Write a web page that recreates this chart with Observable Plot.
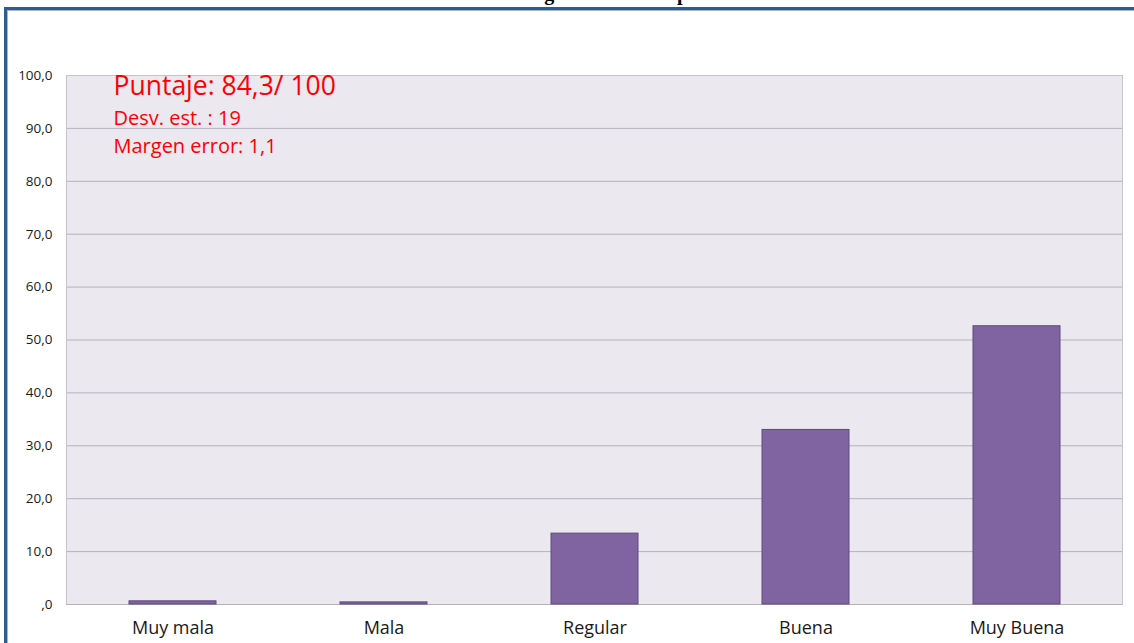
<!DOCTYPE html>
<html>
<head>
<meta charset="utf-8">
<script src="https://cdn.jsdelivr.net/npm/d3@7"></script>
<script src="https://cdn.jsdelivr.net/npm/@observablehq/plot@0.6"></script>
<style>
  html, body { margin: 0; padding: 0; background: #fff; overflow: hidden; }
  #page { position: relative; width: 1134px; height: 643px; overflow: hidden; }
  #title { position: absolute; left: 437px; top: -17px; line-height: 20px; font-family: "Liberation Serif", serif; font-weight: bold; font-size: 20px; white-space: nowrap; color: #000; }
  #border { position: absolute; left: 4px; top: 7px; width: 1300px; height: 800px; border-left: 3px solid #2f5b93; border-top: 3px solid #2f5b93; box-shadow: inset 1px 1px 0 #a9b4c4; }
  #chart { position: absolute; left: 0; top: 0; }
</style>
</head>
<body>
<div id="page">
  <div id="title">Calificación general de la experiencia</div>
  <div id="border"></div>
  <div id="chart"></div>
</div>
<script>
const categories = ["Muy mala", "Mala", "Regular", "Buena", "Muy Buena"];
const values = [0.6, 0.4, 13.4, 33.0, 52.6];
const yTicks = [0, 10, 20, 30, 40, 50, 60, 70, 80, 90, 100];
const yTickLabels = [",0", "10,0", "20,0", "30,0", "40,0", "50,0", "60,0", "70,0", "80,0", "90,0", "100,0"];
const notes = ["Puntaje: 84,3/ 100", "Desv. est. : 19", "Margen error: 1,1"];

const data = categories.map((c, i) => ({cat: c, value: values[i]}));

const chart = Plot.plot({
  width: 1134,
  height: 643,
  marginLeft: 66,
  marginRight: 12,
  marginTop: 75,
  marginBottom: 39,
  style: {background: "transparent", fontFamily: "'Open Sans', sans-serif", color: "#1a1a1a"},
  x: {domain: categories, paddingInner: 0.59, paddingOuter: 0.295, label: null},
  y: {domain: [0, 100], label: null},
  marks: [
    Plot.frame({fill: "#ebe8ef", stroke: "none"}),
    Plot.gridY(yTicks, {stroke: "#b4b2ba", strokeOpacity: 1, strokeWidth: 1}),
    Plot.frame({stroke: "#c6c4ca", fill: "none"}),
    Plot.ruleY([0], {stroke: "#b4b2ba"}),
    Plot.barY(data, {x: "cat", y: "value", fill: "#8064a2", stroke: "#5e4a7c", strokeWidth: 1}),
    Plot.axisX({tickSize: 0, tickPadding: 17, fontSize: 18, label: null}),
    Plot.axisY({ticks: yTicks, tickFormat: d => yTickLabels[yTicks.indexOf(d)], tickSize: 0, tickPadding: 14, fontSize: 13.5, label: null}),
    Plot.text([notes[0]], {frameAnchor: "top-left", text: d => d, dx: 47, dy: 1, lineAnchor: "top", textAnchor: "start", fontSize: 26.5, fill: "#ff0000"}),
    Plot.text([notes[1]], {frameAnchor: "top-left", text: d => d, dx: 47, dy: 35, lineAnchor: "top", textAnchor: "start", fontSize: 20, fill: "#ff0000"}),
    Plot.text([notes[2]], {frameAnchor: "top-left", text: d => d, dx: 47, dy: 63, lineAnchor: "top", textAnchor: "start", fontSize: 20, fill: "#ff0000"})
  ]
});
document.getElementById("chart").appendChild(chart);
</script>
</body>
</html>
